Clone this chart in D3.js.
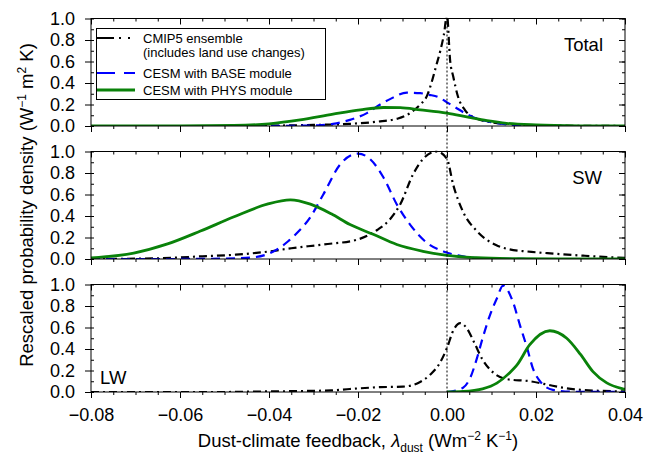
<!DOCTYPE html>
<html>
<head>
<meta charset="utf-8">
<script src="https://cdn.jsdelivr.net/npm/d3@7"></script>
<style>
  body { margin: 0; background: #fff; }
  svg { font-family: "Liberation Sans", Arial, sans-serif; }
</style>
</head>
<body>
<svg width="654" height="458"></svg>
<script>
// feedback values (W m-2 K-1) against rescaled probability density
var panelNames = ["Total", "SW", "LW"];
var xTicks = [-0.08, -0.06, -0.04, -0.02, 0.00, 0.02, 0.04];
var yTicks = [0.0, 0.2, 0.4, 0.6, 0.8, 1.0];
var seriesNames = ["CMIP5 ensemble", "(includes land use changes)", "CESM with BASE module", "CESM with PHYS module"];

var totalCmip5 = [[-0.08, 0], [-0.05, 0], [-0.04, 0.003], [-0.03, 0.01], [-0.022, 0.02], [-0.0157, 0.04],
  [-0.011, 0.07], [-0.0083, 0.12], [-0.006, 0.2], [-0.0045, 0.28], [-0.0035, 0.4], [-0.0025, 0.55],
  [-0.0015, 0.7], [-0.0007, 0.85], [0, 1.03], [0.0007, 0.61], [0.0014, 0.46], [0.0025, 0.27],
  [0.004, 0.15], [0.006, 0.08], [0.01, 0.035], [0.015, 0.015], [0.02, 0.007], [0.03, 0.002], [0.04, 0]];
var totalBase = [[-0.08, 0], [-0.045, 0], [-0.035, 0.002], [-0.029, 0.007], [-0.0256, 0.02], [-0.022, 0.055],
  [-0.018, 0.12], [-0.015, 0.2], [-0.0128, 0.25], [-0.009, 0.31], [-0.006, 0.305], [-0.004, 0.29],
  [-0.002, 0.27], [0, 0.22], [0.002, 0.17], [0.004, 0.12], [0.006, 0.08], [0.01, 0.035], [0.015, 0.01],
  [0.02, 0.002], [0.03, 0], [0.04, 0]];
var totalPhys = [[-0.08, 0], [-0.06, 0.001], [-0.048, 0.005], [-0.04, 0.02], [-0.033, 0.056], [-0.0256, 0.11],
  [-0.0195, 0.15], [-0.0143, 0.172], [-0.0105, 0.17], [-0.006, 0.15], [0, 0.12], [0.005, 0.08],
  [0.009, 0.05], [0.0134, 0.025], [0.02, 0.01], [0.03, 0.002], [0.04, 0]];

var swCmip5 = [[-0.08, 0], [-0.072, 0.002], [-0.066, 0.005], [-0.055, 0.025], [-0.0475, 0.04], [-0.04, 0.07],
  [-0.035, 0.1], [-0.0278, 0.135], [-0.0202, 0.18], [-0.0157, 0.27], [-0.0128, 0.37], [-0.0105, 0.51],
  [-0.0076, 0.79], [-0.0054, 0.93], [-0.0023, 1.0], [0, 0.93], [0.0014, 0.69], [0.0036, 0.44],
  [0.0067, 0.26], [0.011, 0.13], [0.014, 0.09], [0.018, 0.07], [0.024, 0.05], [0.031, 0.03],
  [0.037, 0.015], [0.04, 0.01]];
var swBase = [[-0.08, 0], [-0.064, 0], [-0.05, 0.003], [-0.0437, 0.015], [-0.039, 0.07], [-0.0357, 0.165],
  [-0.0345, 0.21], [-0.0307, 0.39], [-0.0278, 0.6], [-0.024, 0.88], [-0.02, 0.98], [-0.0173, 0.93],
  [-0.0143, 0.76], [-0.0113, 0.51], [-0.0083, 0.32], [-0.0045, 0.15], [-0.0008, 0.07], [0.003, 0.03],
  [0.006, 0.01], [0.012, 0.002], [0.02, 0], [0.04, 0]];
var swPhys = [[-0.08, 0.01], [-0.0704, 0.055], [-0.0628, 0.14], [-0.0554, 0.26], [-0.048, 0.39],
  [-0.0404, 0.51], [-0.0352, 0.55], [-0.0307, 0.51], [-0.026, 0.42], [-0.0218, 0.32], [-0.0166, 0.23],
  [-0.0113, 0.135], [-0.0054, 0.072], [0, 0.033], [0.0067, 0.012], [0.015, 0.003], [0.025, 0], [0.04, 0]];

var lwCmip5 = [[-0.08, 0], [-0.05, 0], [-0.045, 0.003], [-0.035, 0.008], [-0.026, 0.015], [-0.0218, 0.028],
  [-0.015, 0.045], [-0.0099, 0.05], [-0.0067, 0.08], [-0.0038, 0.16], [-0.0016, 0.27], [0, 0.41],
  [0.0015, 0.58], [0.003, 0.64], [0.0045, 0.59], [0.006, 0.47], [0.008, 0.3], [0.0104, 0.18],
  [0.0134, 0.12], [0.0186, 0.1], [0.0224, 0.07], [0.026, 0.04], [0.03, 0.02], [0.035, 0.01], [0.04, 0.005]];
var lwBase = [[0, 0], [0.0036, 0.04], [0.0052, 0.13], [0.0067, 0.31], [0.008, 0.5], [0.0097, 0.72],
  [0.0112, 0.87], [0.0126, 0.99], [0.0148, 0.84], [0.0164, 0.62], [0.018, 0.41], [0.0193, 0.22],
  [0.0209, 0.1], [0.0238, 0.02], [0.028, 0.003], [0.04, 0]];
var lwPhys = [[0, 0], [0.0036, 0.005], [0.008, 0.03], [0.0112, 0.083], [0.0141, 0.18], [0.0157, 0.25],
  [0.0186, 0.44], [0.0231, 0.57], [0.0269, 0.5], [0.03, 0.35], [0.0328, 0.19], [0.0359, 0.085],
  [0.0395, 0.03], [0.04, 0.025]];

var panelData = [
  [totalCmip5, totalBase, totalPhys],
  [swCmip5, swBase, swPhys],
  [lwCmip5, lwBase, lwPhys]
];

var styles = [
  { color: "#000", width: 2.2, dash: "8,4,2,4", legDash: "17,5,2,7,2,20" },
  { color: "#0000ff", width: 2.2, dash: "9,6", legDash: "18,9" },
  { color: "#0a820a", width: 2.8, dash: null, legDash: null }
];

var svg = d3.select("svg");
var left = 91, right = 625;
var panelTop = [18.5, 151.5, 284.5], panelH = 107.5;
var font = "'Liberation Sans', Arial, sans-serif";

var x = d3.scaleLinear().domain([-0.08, 0.04]).range([left, right]);
var xMinor = d3.range(-0.08, 0.0401, 0.005);
var yMinor = d3.range(0, 1.01, 0.1);

panelData.forEach(function (series, p) {
  var top = panelTop[p];
  var y = d3.scaleLinear().domain([0, 1]).range([top + panelH, top]);
  var g = svg.append("g");

  g.append("clipPath").attr("id", "clip" + p)
    .append("rect").attr("x", left).attr("y", top - 1).attr("width", right - left).attr("height", panelH + 1);

  var line = d3.line()
    .x(function (d) { return x(d[0]); })
    .y(function (d) { return y(d[1]); })
    .curve(d3.curveMonotoneX);

  series.forEach(function (s, i) {
    g.append("path")
      .datum(s)
      .attr("clip-path", "url(#clip" + p + ")")
      .attr("fill", "none")
      .attr("stroke", styles[i].color)
      .attr("stroke-width", styles[i].width)
      .attr("stroke-dasharray", styles[i].dash)
      .attr("d", line);
  });

  function axis(gen, ty, tx) {
    var a = g.append("g").attr("transform", "translate(" + (tx || 0) + "," + (ty || 0) + ")").call(gen);
    a.select(".domain").remove();
    a.selectAll("line").attr("stroke", "#000");
    a.selectAll("text").attr("font-size", 18).attr("font-family", font).attr("fill", "#000");
    return a;
  }

  // bottom: outward ticks, top: inward
  axis(d3.axisBottom(x).tickValues(xMinor).tickSize(3).tickFormat(""), top + panelH);
  axis(d3.axisBottom(x).tickValues(xTicks).tickSize(6).tickPadding(10)
    .tickFormat(p === 2 ? d3.format(".2f") : ""), top + panelH);
  axis(d3.axisTop(x).tickValues(xMinor).tickSize(-3).tickFormat(""), top);
  axis(d3.axisTop(x).tickValues(xTicks).tickSize(-6).tickFormat(""), top);

  axis(d3.axisLeft(y).tickValues(yMinor).tickSize(-3).tickFormat(""), 0, left);
  axis(d3.axisLeft(y).tickValues(yTicks).tickSize(6).tickPadding(10).tickFormat(d3.format(".1f")), 0, left);
  axis(d3.axisRight(y).tickValues(yMinor).tickSize(-3).tickFormat(""), 0, right);
  axis(d3.axisRight(y).tickValues(yTicks).tickSize(-6).tickFormat(""), 0, right);

  g.append("rect")
    .attr("x", left).attr("y", top).attr("width", right - left).attr("height", panelH)
    .attr("fill", "none").attr("stroke", "#000").attr("stroke-width", 1);
});

// zero line through all panels
svg.append("line")
  .attr("x1", x(0)).attr("x2", x(0))
  .attr("y1", panelTop[0]).attr("y2", panelTop[2] + panelH)
  .attr("stroke", "#000").attr("stroke-width", 1).attr("stroke-dasharray", "2,2");

// panel labels
svg.append("text").attr("x", 603).attr("y", 51).attr("text-anchor", "end")
  .attr("font-size", 18.5).text(panelNames[0]);
svg.append("text").attr("x", 602).attr("y", 184).attr("text-anchor", "end")
  .attr("font-size", 18.5).text(panelNames[1]);
svg.append("text").attr("x", 100).attr("y", 384)
  .attr("font-size", 18.5).text(panelNames[2]);

// legend
var lg = svg.append("g");
lg.append("rect").attr("x", 96.5).attr("y", 28.5).attr("width", 229).attr("height", 71)
  .attr("fill", "#fff").attr("stroke", "#000").attr("stroke-width", 1);
var legRows = [
  { y: 38, s: 0, label: seriesNames[0] },
  { y: 73, s: 1, label: seriesNames[2] },
  { y: 90, s: 2, label: seriesNames[3] }
];
legRows.forEach(function (r) {
  lg.append("line").attr("x1", 97).attr("x2", 135).attr("y1", r.y).attr("y2", r.y)
    .attr("stroke", styles[r.s].color).attr("stroke-width", styles[r.s].width)
    .attr("stroke-dasharray", styles[r.s].legDash);
  lg.append("text").attr("x", 143).attr("y", r.y + 4.5).attr("font-size", 13).text(r.label);
});
lg.append("text").attr("x", 143).attr("y", 57).attr("font-size", 13).text(seriesNames[1]);

// y axis title
var yt = svg.append("text")
  .attr("transform", "translate(33,205) rotate(-90)")
  .attr("text-anchor", "middle").attr("font-size", 18.5);
yt.append("tspan").text("Rescaled probability density (W");
yt.append("tspan").attr("dy", -7).attr("font-size", 12).text("\u22121");
yt.append("tspan").attr("dy", 7).text(" m");
yt.append("tspan").attr("dy", -7).attr("font-size", 12).text("2");
yt.append("tspan").attr("dy", 7).text(" K)");

// x axis title
var xt = svg.append("text")
  .attr("x", 358).attr("y", 447)
  .attr("text-anchor", "middle").attr("font-size", 18.5);
xt.append("tspan").text("Dust-climate feedback, ");
xt.append("tspan").attr("font-style", "italic").text("\u03bb");
xt.append("tspan").attr("dy", 5).attr("font-size", 12).text("dust");
xt.append("tspan").attr("dy", -5).text(" (Wm");
xt.append("tspan").attr("dy", -7).attr("font-size", 12).text("\u22122");
xt.append("tspan").attr("dy", 7).text(" K");
xt.append("tspan").attr("dy", -7).attr("font-size", 12).text("\u22121");
xt.append("tspan").attr("dy", 7).text(")");
</script>
</body>
</html>
